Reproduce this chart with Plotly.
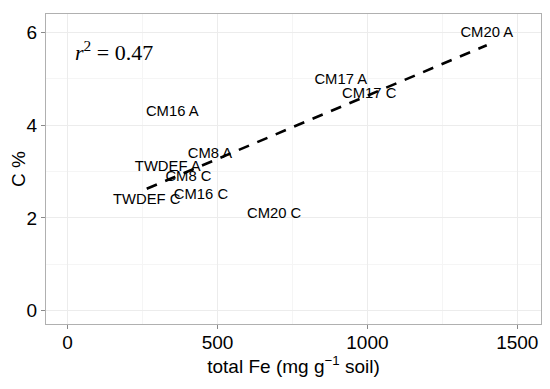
import numpy as np
import plotly.graph_objects as go

labels = ["CM20 A", "CM17 A", "CM17 C", "CM16 A", "CM8 A", "TWDEF A", "CM8 C", "CM16 C", "TWDEF C", "CM20 C"]
total_fe = [1398, 911, 1006, 349, 475, 334, 403, 445, 264, 689]
carbon_pct = [5.98, 4.97, 4.67, 4.27, 3.38, 3.09, 2.88, 2.48, 2.38, 2.08]
x_ticks = [0, 500, 1000, 1500]
y_ticks = [0, 2, 4, 6]
r2_text = "<i>r</i><sup>2</sup> = 0.47"

slope, intercept = np.polyfit(total_fe, carbon_pct, 1)
fit_x = [min(total_fe), max(total_fe)]
fit_y = [intercept + slope * v for v in fit_x]

fig = go.Figure()
fig.add_trace(go.Scatter(x=fit_x, y=fit_y, mode="lines",
                         line=dict(color="black", width=2.6, dash="11px,9px"),
                         hoverinfo="skip", showlegend=False))
fig.add_trace(go.Scatter(x=total_fe, y=carbon_pct, mode="text", text=labels,
                         textposition="middle center",
                         textfont=dict(family="Liberation Sans, Arial", size=14.8, color="black"),
                         showlegend=False))

fig.add_annotation(x=0.054, y=0.88, xref="paper", yref="paper", text=r2_text,
                   showarrow=False, xanchor="left", yanchor="middle",
                   font=dict(family="Liberation Serif, Times New Roman", size=22, color="black"))

axis_common = dict(showline=True, linecolor="#b0b0b0", linewidth=1.2, mirror=True,
                   ticks="outside", ticklen=4, tickcolor="#8a8a8a", tickwidth=1,
                   showgrid=True, gridcolor="#ececec", gridwidth=1, zeroline=False,
                   automargin=False,
                   tickfont=dict(family="Liberation Sans, Arial", size=19, color="black"),
                   title_font=dict(family="Liberation Sans, Arial", size=19, color="black"))

# page body has an 8px default margin, so the figure is shrunk and margins offset accordingly
fig.update_layout(
    width=542, height=381,
    margin=dict(l=38, r=9, t=6, b=65),
    plot_bgcolor="white", paper_bgcolor="white",
    xaxis=dict(range=[-72, 1579], tickvals=x_ticks, ticklabelstandoff=-3,
               title=dict(text="total Fe (mg g<sup>−1</sup> soil)", standoff=3),
               minor=dict(showgrid=True, gridcolor="#f5f5f5", dtick=250, tick0=250, ticks=""), **axis_common),
    yaxis=dict(range=[-0.287, 6.394], tickvals=y_ticks, title=dict(text="C %", standoff=3),
               minor=dict(showgrid=True, gridcolor="#f5f5f5", dtick=1, tick0=1, ticks=""), **axis_common),
)

fig.write_html("out.html")
